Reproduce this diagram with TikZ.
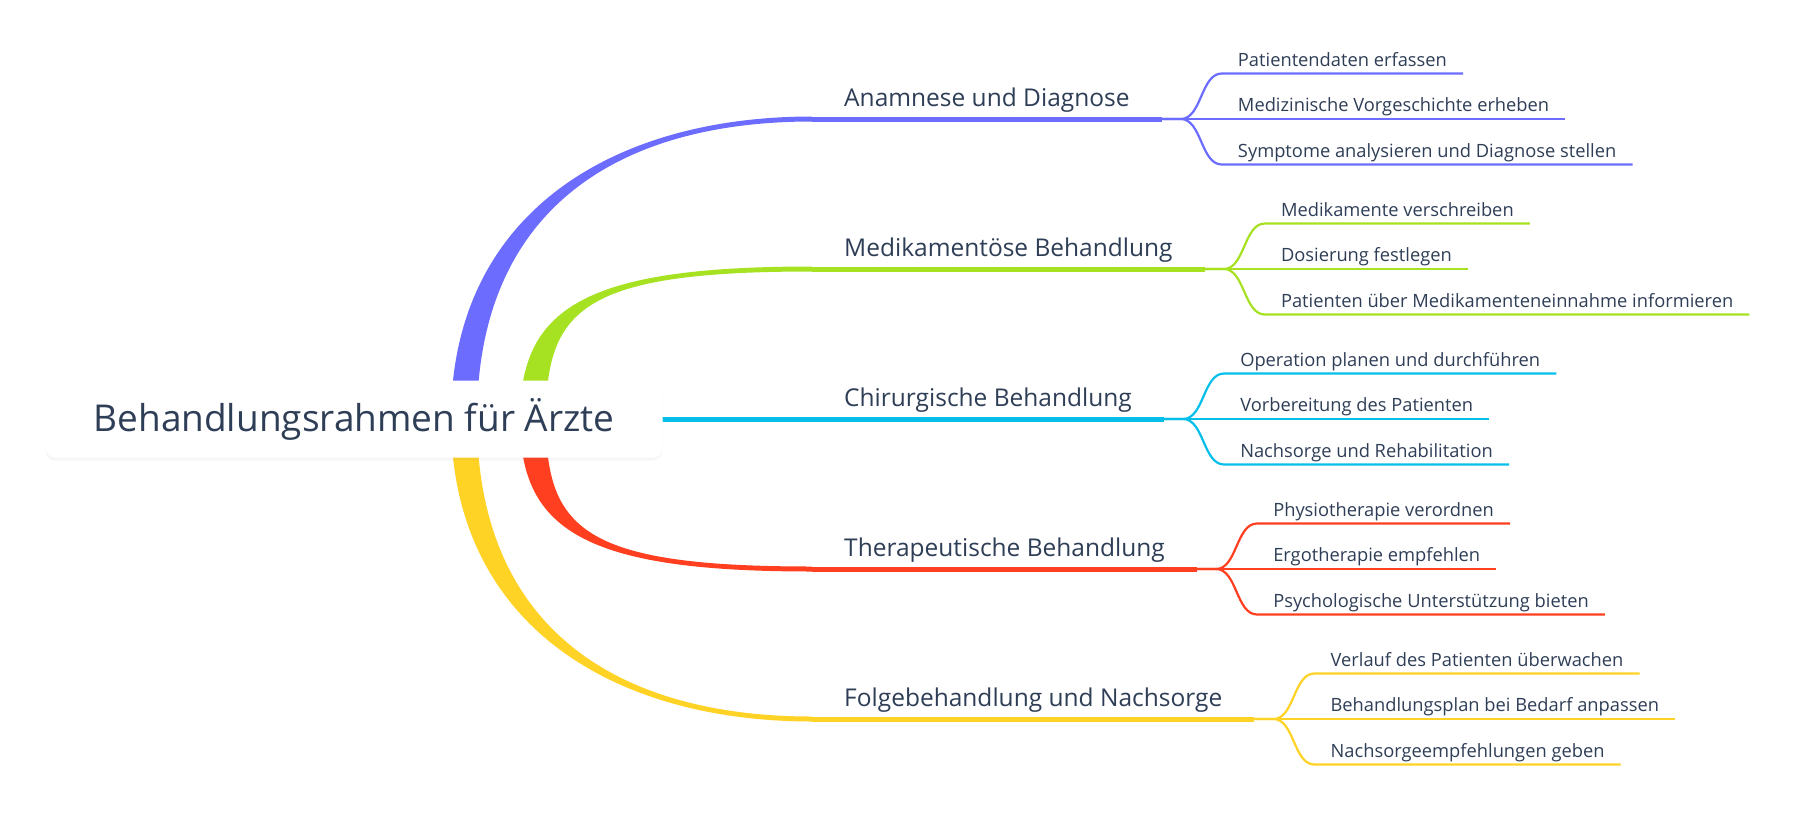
\documentclass[tikz,border=0pt]{standalone}
\usepackage{fontspec}
\setmainfont{Open Sans}
\usepackage{tikz}
\usetikzlibrary{positioning, calc, shadows, backgrounds}

\definecolor{inkText}{HTML}{2F3E57}
\definecolor{mmBlue}{HTML}{6C6CFF}
\definecolor{mmGreen}{HTML}{A6E222}
\definecolor{mmCyan}{HTML}{05BFEA}
\definecolor{mmRed}{HTML}{FF3F1F}
\definecolor{mmYellow}{HTML}{FFD326}

% tapered branch: colour, from, to, -1 up / 1 down, handle at root, handle at topic
\newcommand{\bough}[6]{%
  \fill[#1] ($(#2)+(-13,0)$) .. controls ($(#2)+(-13,#4*#5)$) and ($(#3)+(-#6,#4*2.5)$) .. ($(#3)+(0,#4*2.5)$)
    -- ($(#3)-(0,#4*2.5)$) .. controls ($(#3)+(-#6,0)-(0,#4*2.5)$) and ($(#2)+(13,#4*#5)$) .. ($(#2)+(13,0)$) -- cycle;}

\begin{document}
\begin{tikzpicture}[x=1pt, y=-1pt,
  hub/.style={rectangle, rounded corners=10pt, fill=white, minimum width=617pt, minimum height=77pt,
    drop shadow={opacity=0.07, shadow xshift=0pt, shadow yshift=-3pt}, text=inkText, font=\fontsize{37}{41}\selectfont},
  topic/.style={anchor=south west, inner xsep=32pt, inner ysep=12pt, text depth=0pt, text=inkText,
    font=\fontsize{24.5}{28}\selectfont},
  leaf/.style={anchor=south west, inner xsep=16pt, inner ysep=7pt, text depth=0pt, text=inkText,
    font=\fontsize{18.3}{22}\selectfont},
  stem/.style={line width=5pt},
  twig/.style={line width=2.2pt}]
  \useasboundingbox (0,0) rectangle (1798,825);

  \node[hub] (root) at (354,419) {Behandlungsrahmen für Ärzte};

  % topics
  \node[topic] (t1) at (812,119) {Anamnese und Diagnose};
  \node[topic] (t2) at (812,269) {Medikamentöse Behandlung};
  \node[topic] (t3) at (812,419) {Chirurgische Behandlung};
  \node[topic] (t4) at (812,569) {Therapeutische Behandlung};
  \node[topic] (t5) at (812,719) {Folgebehandlung und Nachsorge};

  % leaves
  \node[leaf] (l11) at ($(t1.south east)+(60,-45.5)$) {Patientendaten erfassen};
  \node[leaf] (l12) at ($(t1.south east)+(60,0)$) {Medizinische Vorgeschichte erheben};
  \node[leaf] (l13) at ($(t1.south east)+(60,45.5)$) {Symptome analysieren und Diagnose stellen};

  \node[leaf] (l21) at ($(t2.south east)+(60,-45.5)$) {Medikamente verschreiben};
  \node[leaf] (l22) at ($(t2.south east)+(60,0)$) {Dosierung festlegen};
  \node[leaf] (l23) at ($(t2.south east)+(60,45.5)$) {Patienten über Medikamenteneinnahme informieren};

  \node[leaf] (l31) at ($(t3.south east)+(60,-45.5)$) {Operation planen und durchführen};
  \node[leaf] (l32) at ($(t3.south east)+(60,0)$) {Vorbereitung des Patienten};
  \node[leaf] (l33) at ($(t3.south east)+(60,45.5)$) {Nachsorge und Rehabilitation};

  \node[leaf] (l41) at ($(t4.south east)+(60,-45.5)$) {Physiotherapie verordnen};
  \node[leaf] (l42) at ($(t4.south east)+(60,0)$) {Ergotherapie empfehlen};
  \node[leaf] (l43) at ($(t4.south east)+(60,45.5)$) {Psychologische Unterstützung bieten};

  \node[leaf] (l51) at ($(t5.south east)+(60,-45.5)$) {Verlauf des Patienten überwachen};
  \node[leaf] (l52) at ($(t5.south east)+(60,0)$) {Behandlungsplan bei Bedarf anpassen};
  \node[leaf] (l53) at ($(t5.south east)+(60,45.5)$) {Nachsorgeempfehlungen geben};

  \begin{scope}[on background layer]
    \fill[white] (0,0) rectangle (1798,825);
    \coordinate (r1) at ($(root.center)+(110,0)$);
    \coordinate (r2) at ($(root.center)+(179,0)$);
    \bough{mmBlue}{r1}{t1.south west}{-1}{205}{200}
    \bough{mmGreen}{r2}{t2.south west}{-1}{110}{230}
    \bough{mmRed}{r2}{t4.south west}{1}{110}{230}
    \bough{mmYellow}{r1}{t5.south west}{1}{205}{200}
    \draw[stem, mmCyan] (root.center) -- (t3.south east);
  \end{scope}

  \draw[stem, mmBlue] (t1.south west) -- (t1.south east);
  \draw[stem, mmGreen] (t2.south west) -- (t2.south east);
  \draw[stem, mmRed] (t4.south west) -- (t4.south east);
  \draw[stem, mmYellow] (t5.south west) -- (t5.south east);

  \foreach \leaf in {l11,l12,l13}
    \draw[twig, mmBlue] (t1.south east) -- ++(19,0) .. controls +(21,0) and +(-21,0) .. (\leaf.south west) -- (\leaf.south east);
  \foreach \leaf in {l21,l22,l23}
    \draw[twig, mmGreen] (t2.south east) -- ++(19,0) .. controls +(21,0) and +(-21,0) .. (\leaf.south west) -- (\leaf.south east);
  \foreach \leaf in {l31,l32,l33}
    \draw[twig, mmCyan] (t3.south east) -- ++(19,0) .. controls +(21,0) and +(-21,0) .. (\leaf.south west) -- (\leaf.south east);
  \foreach \leaf in {l41,l42,l43}
    \draw[twig, mmRed] (t4.south east) -- ++(19,0) .. controls +(21,0) and +(-21,0) .. (\leaf.south west) -- (\leaf.south east);
  \foreach \leaf in {l51,l52,l53}
    \draw[twig, mmYellow] (t5.south east) -- ++(19,0) .. controls +(21,0) and +(-21,0) .. (\leaf.south west) -- (\leaf.south east);
\end{tikzpicture}
\end{document}
